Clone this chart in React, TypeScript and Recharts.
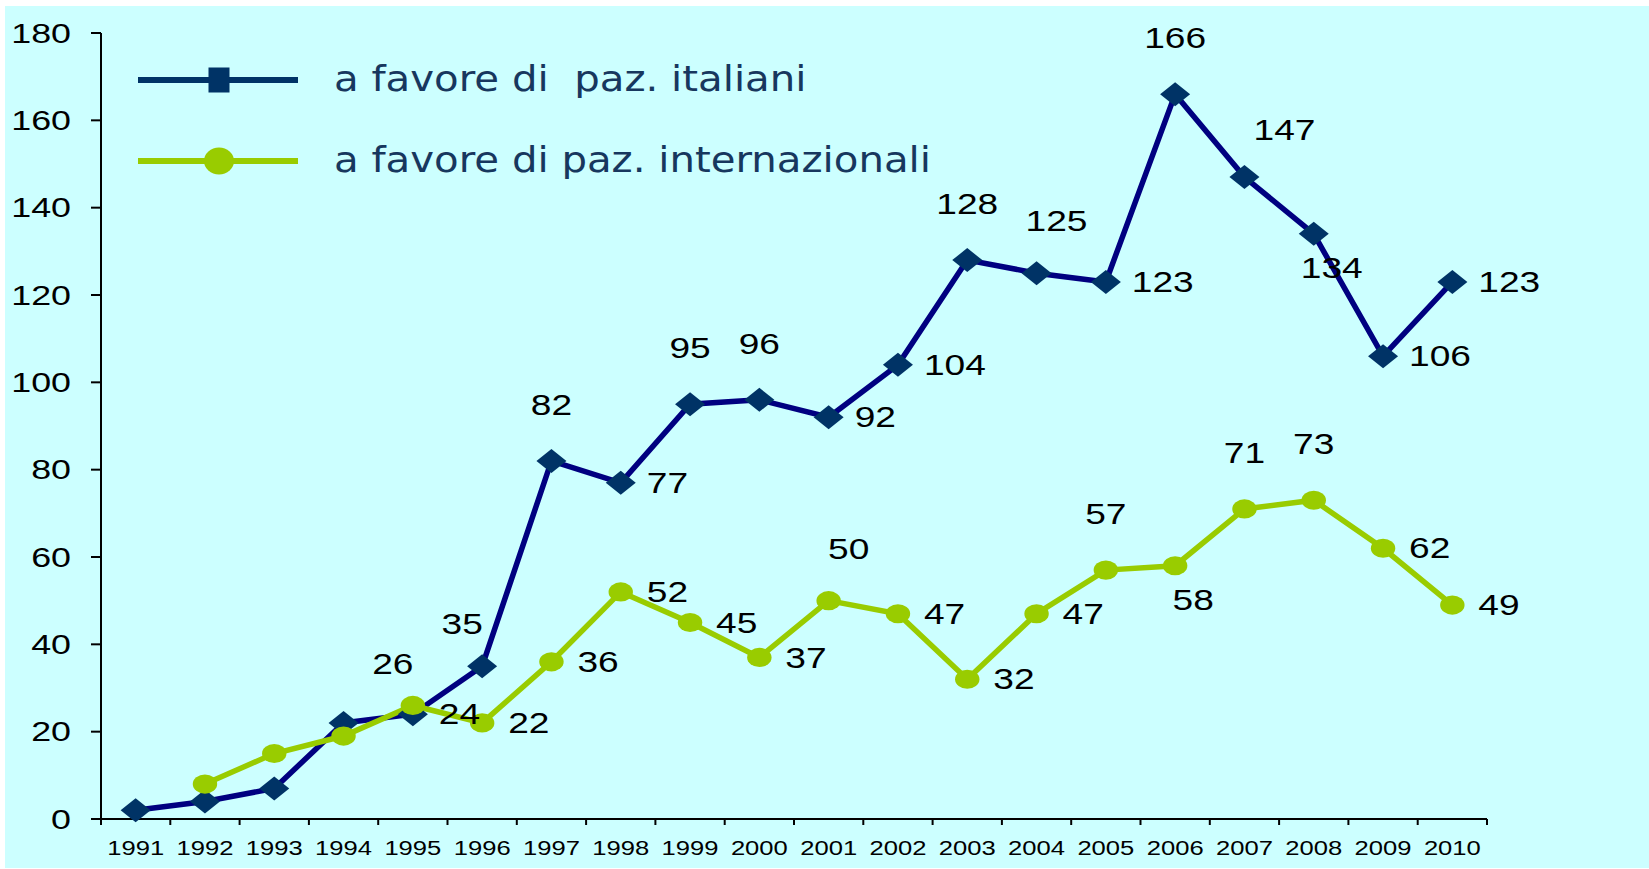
import { LineChart, Line, XAxis, YAxis, LabelList } from "recharts";

const years = [
  "1991", "1992", "1993", "1994", "1995", "1996", "1997", "1998", "1999", "2000",
  "2001", "2002", "2003", "2004", "2005", "2006", "2007", "2008", "2009", "2010",
];
const italiani = [2, 4, 7, 22, 24, 35, 82, 77, 95, 96, 92, 104, 128, 125, 123, 166, 147, 134, 106, 123];
const internazionali = [null, 8, 15, 19, 26, 22, 36, 52, 45, 37, 50, 47, 32, 47, 57, 58, 71, 73, 62, 49];
const seriesNames = ["a favore di  paz. italiani", "a favore di paz. internazionali"];
const yTicks = [0, 20, 40, 60, 80, 100, 120, 140, 160, 180];

// where each value label sits around its point ("" = no label)
const italianiLabelPos = ["", "", "", "", "R", "TL", "T", "R", "T", "T", "R", "R", "T", "TR2", "R", "T", "TR", "B", "R", "R"];
const internazionaliLabelPos = ["", "", "", "", "TL", "R", "R", "R", "R", "R", "TR2", "R", "R", "R", "T", "B", "T", "T", "R", "R"];

const W = 1649;
const H = 869;
const MARGIN = { top: 33, right: 162, bottom: 10, left: 0 };
const Y_WIDTH = 101;
const BAND = (W - MARGIN.right - MARGIN.left - Y_WIDTH) / years.length;
const STRETCH = 1.28; // the source picture is widened horizontally
const FONT = "'Liberation Sans', Arial, sans-serif";

const NAVY = "#000080";
const NAVY_MARK = "#003366";
const GREEN = "#99CC00";

const data = years.map((year, i) => ({
  pos: i + 0.5,
  year,
  italiani: italiani[i],
  internazionali: internazionali[i],
}));
const boundaryTicks = years.map((_, i) => i).concat(years.length);

function stretchAt(x: number, y: number) {
  return `translate(${x},${y}) scale(${STRETCH},1)`;
}

function YearTick({ x, y, payload }: any) {
  const k = payload.value;
  if (k >= years.length) return <g />;
  return (
    <text transform={stretchAt(x + BAND / 2, y + 21)} textAnchor="middle" dy="0.35em" fontSize={20} fontFamily={FONT} fill="#000">
      {years[k]}
    </text>
  );
}

function ValueTick({ x, y, payload }: any) {
  return (
    <text transform={stretchAt(x, y)} textAnchor="end" dy="0.35em" fontSize={28} fontFamily={FONT} fill="#000">
      {payload.value}
    </text>
  );
}

const placements: Record<string, { dx: number; dy: number; anchor: string }> = {
  R: { dx: 26, dy: 0, anchor: "start" },
  T: { dx: 0, dy: -56, anchor: "middle" },
  TL: { dx: -20, dy: -42, anchor: "middle" },
  TR: { dx: 40, dy: -47, anchor: "middle" },
  TR2: { dx: 20, dy: -52, anchor: "middle" },
  B: { dx: 18, dy: 34, anchor: "middle" },
};

function makeLabel(positions: string[]) {
  return (props: any) => {
    const { x, y, value, index } = props;
    const p = placements[positions[index]];
    if (!p || value == null) return null;
    return (
      <text transform={stretchAt(x + p.dx, y + p.dy)} textAnchor={p.anchor} dy="0.35em" fontSize={29} fontFamily={FONT} fill="#000">
        {value}
      </text>
    );
  };
}

function renderDiamond(props: any) {
  const { cx, cy, index } = props;
  if (cx == null || cy == null) return <g key={index} />;
  return (
    <polygon
      key={index}
      points={`${cx - 15},${cy} ${cx},${cy - 12} ${cx + 15},${cy} ${cx},${cy + 12}`}
      fill={NAVY_MARK}
    />
  );
}

function renderCircle(props: any) {
  const { cx, cy, index, value } = props;
  if (cx == null || cy == null || value == null) return <g key={index} />;
  return <ellipse key={index} cx={cx} cy={cy} rx={12.2} ry={9.6} fill={GREEN} />;
}

function ChartLegend() {
  const rows = [
    { name: seriesNames[0], color: NAVY_MARK, y: 80, mark: "square" },
    { name: seriesNames[1], color: GREEN, y: 161, mark: "circle" },
  ];
  return (
    <svg width={1000} height={200} style={{ position: "absolute", left: 0, top: 0, pointerEvents: "none" }}>
      {rows.map((r) => (
        <g key={r.name}>
          <line x1={138} x2={298} y1={r.y} y2={r.y} stroke={r.color} strokeWidth={6} />
          {r.mark === "square" ? (
            <rect x={208.5} y={r.y - 12.5} width={21} height={25} fill={r.color} />
          ) : (
            <ellipse cx={219} cy={r.y} rx={15} ry={13.5} fill={r.color} />
          )}
          <text
            transform={`translate(334,${r.y}) scale(1.15,1)`}
            dy="0.3em"
            fontSize={35}
            fontFamily="'DejaVu Sans', Verdana, sans-serif"
            fill="#17375E"
            style={{ whiteSpace: "pre" }}
          >
            {r.name}
          </text>
        </g>
      ))}
    </svg>
  );
}

export default function App() {
  return (
    <div style={{ position: "relative", width: W, height: H, background: "#fff", overflow: "hidden" }}>
      <style>{`body{margin:0}`}</style>
      <div style={{ position: "absolute", left: 5, top: 6, right: 0, bottom: 1, background: "#CCFFFF" }} />
      <div style={{ position: "absolute", left: 0, top: 0 }}>
        <LineChart width={W} height={H} data={data} margin={MARGIN}>
          <XAxis
            type="number"
            dataKey="pos"
            domain={[0, years.length]}
            ticks={boundaryTicks}
            interval={0}
            tick={<YearTick />}
            tickSize={6}
            height={40}
            axisLine={{ stroke: "#000", strokeWidth: 2 }}
            tickLine={{ stroke: "#000", strokeWidth: 2 }}
          />
          <YAxis
            domain={[0, 180]}
            ticks={yTicks}
            interval={0}
            width={Y_WIDTH}
            tickSize={10}
            tickMargin={20}
            tick={<ValueTick />}
            axisLine={{ stroke: "#000", strokeWidth: 2 }}
            tickLine={{ stroke: "#000", strokeWidth: 2 }}
          />
          <Line
            dataKey="italiani"
            stroke={NAVY}
            strokeWidth={5.5}
            dot={renderDiamond}
            activeDot={false}
            isAnimationActive={false}
          >
            <LabelList dataKey="italiani" content={makeLabel(italianiLabelPos)} />
          </Line>
          <Line
            dataKey="internazionali"
            stroke={GREEN}
            strokeWidth={5.5}
            dot={renderCircle}
            activeDot={false}
            isAnimationActive={false}
          >
            <LabelList dataKey="internazionali" content={makeLabel(internazionaliLabelPos)} />
          </Line>
        </LineChart>
      </div>
      <ChartLegend />
    </div>
  );
}
